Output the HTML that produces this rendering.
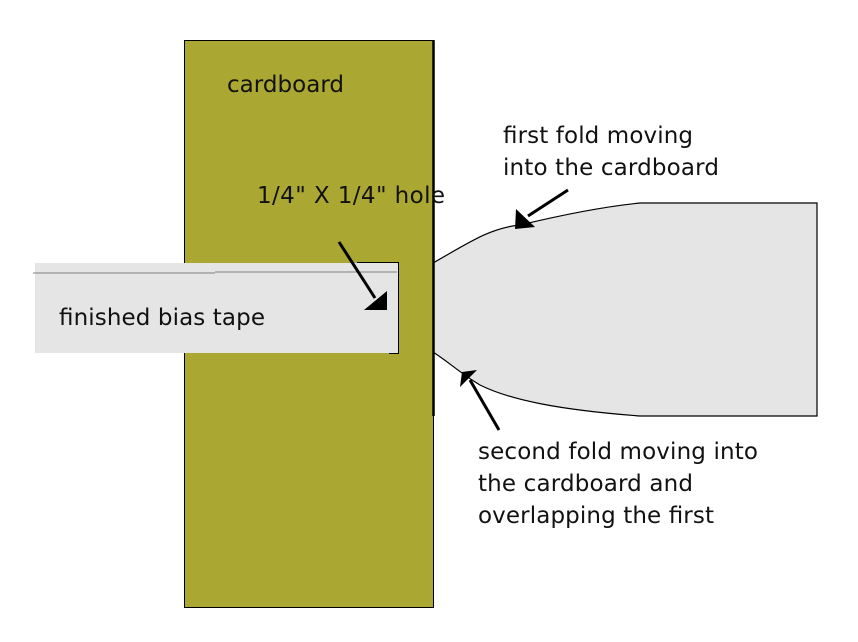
<!DOCTYPE html>
<html><head><meta charset="utf-8"><style>
html,body{margin:0;padding:0;background:#fff;width:858px;height:642px;overflow:hidden}
svg text{font-family:"DejaVu Sans","Liberation Sans",sans-serif;font-size:23px;fill:#111}
</style></head><body>
<svg width="858" height="642" viewBox="0 0 858 642" xmlns="http://www.w3.org/2000/svg">
<rect x="184.5" y="40.5" width="249" height="567" fill="#aaa832" stroke="#000" stroke-width="1"/>
<path d="M433,263 C470,242 490,228 520,225 C570,213 610,206 640,203 L817,203 L817,416 L640,416 C560,410 510,400 480,385 C460,373 450,363 433,352 Z" fill="#e5e5e5" stroke="none"/>
<path d="M433,263 C470,242 490,228 520,225 C570,213 610,206 640,203 L817,203 L817,416 L640,416 C560,410 510,400 480,385 C460,373 450,363 433,352" fill="none" stroke="#000" stroke-width="1.2"/>
<line x1="433.5" y1="40" x2="433.5" y2="416" stroke="#000" stroke-width="2.5"/>
<rect x="35" y="263" width="363" height="90" fill="#e5e5e5"/>
<path d="M357,262.5 L398.5,262.5 L398.5,353.5 L389,353.5" fill="none" stroke="#000" stroke-width="1"/>
<line x1="33" y1="273" x2="215" y2="273" stroke="#808080" stroke-width="1"/>
<line x1="215" y1="272" x2="397" y2="272" stroke="#808080" stroke-width="1"/>
<text x="227" y="92" textLength="117">cardboard</text>
<text x="257" y="203" textLength="188">1/4" X 1/4" hole</text>
<text x="59" y="325" textLength="206">finished bias tape</text>
<text x="503" y="143" textLength="190">first fold moving</text>
<text x="503" y="175" textLength="216">into the cardboard</text>
<text x="478" y="459" textLength="280">second fold moving into</text>
<text x="478" y="491" textLength="215">the cardboard and</text>
<text x="478" y="523" textLength="236">overlapping the first</text>
<g stroke="#000" stroke-width="3" fill="#000">
<line x1="339" y1="242" x2="375" y2="298"/>
<line x1="568" y1="190" x2="528" y2="216"/>
<line x1="499" y1="430" x2="470" y2="380"/>
</g>
<polygon points="364,310 387,291 387,310" fill="#000"/>
<polygon points="516,209 535,227 515,229" fill="#000"/>
<polygon points="460,387 462,372 477,370" fill="#000"/>
</svg>
</body></html>
